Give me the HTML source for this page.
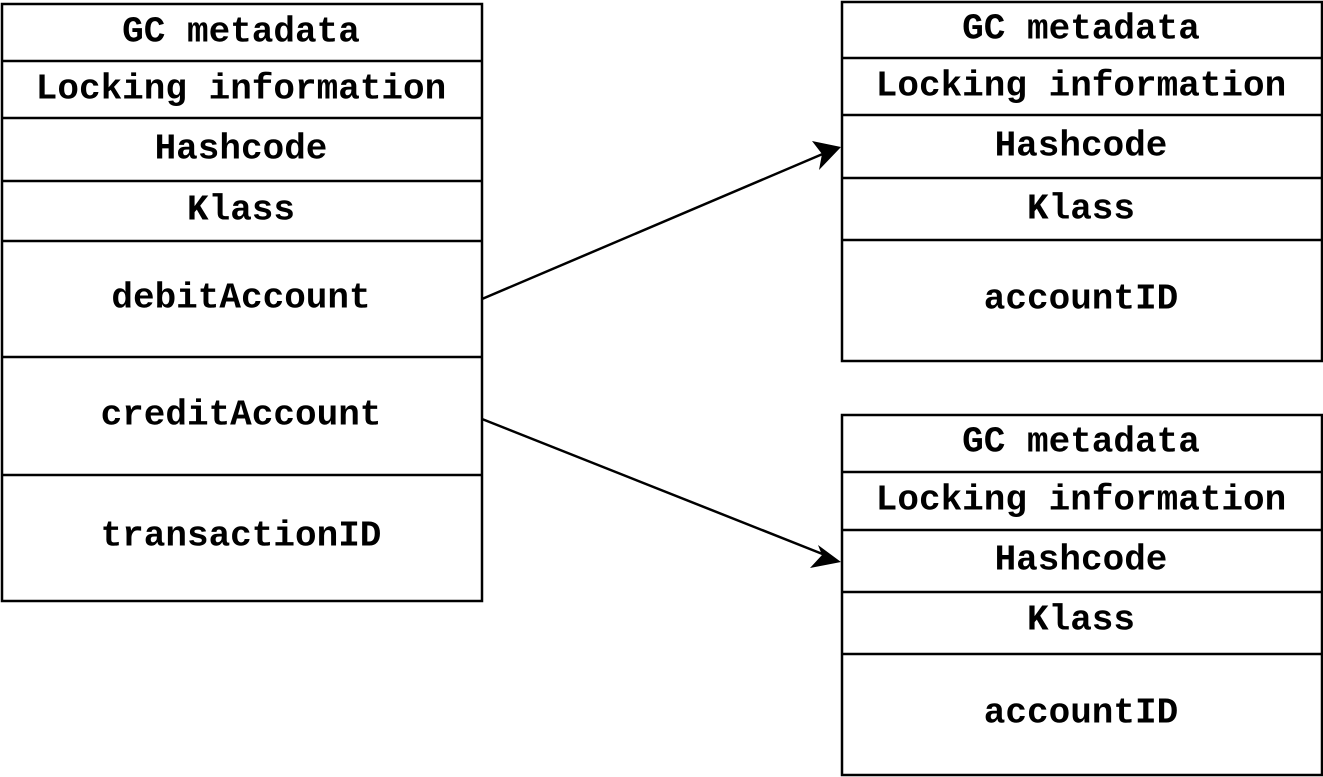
<!DOCTYPE html>
<html><head><style>body{margin:0;background:#fff}svg{display:block}</style></head><body>
<svg width="1323" height="777" xmlns="http://www.w3.org/2000/svg">
<g fill="none" stroke="#000" stroke-width="2.5">
<rect x="2" y="4" width="480" height="597"/>
<line x1="2" y1="61" x2="482" y2="61"/><line x1="2" y1="118" x2="482" y2="118"/>
<line x1="2" y1="181" x2="482" y2="181"/><line x1="2" y1="241" x2="482" y2="241"/>
<line x1="2" y1="357" x2="482" y2="357"/><line x1="2" y1="475" x2="482" y2="475"/>
<rect x="842" y="2" width="480" height="359"/>
<line x1="842" y1="58" x2="1322" y2="58"/><line x1="842" y1="115" x2="1322" y2="115"/>
<line x1="842" y1="178" x2="1322" y2="178"/><line x1="842" y1="240" x2="1322" y2="240"/>
<rect x="842" y="415" width="480" height="360"/>
<line x1="842" y1="472" x2="1322" y2="472"/><line x1="842" y1="530" x2="1322" y2="530"/>
<line x1="842" y1="592" x2="1322" y2="592"/><line x1="842" y1="654" x2="1322" y2="654"/>
<line x1="482" y1="299" x2="825" y2="153"/>
<line x1="482" y1="419" x2="825" y2="555"/>
</g>
<polygon points="841,147 812,141 822,154 819,170" fill="#000"/>
<polygon points="841,562 818,545 822,555 810,568" fill="#000"/>
<g font-family="'Liberation Mono',monospace" font-weight="bold" font-size="36" text-anchor="middle" dominant-baseline="central">
<text x="241" y="32">GC metadata</text><text x="241" y="89">Locking information</text>
<text x="241" y="149">Hashcode</text><text x="241" y="210">Klass</text>
<text x="241" y="298">debitAccount</text><text x="241" y="415">creditAccount</text>
<text x="241" y="536">transactionID</text>
<text x="1081" y="29">GC metadata</text><text x="1081" y="86">Locking information</text>
<text x="1081" y="146">Hashcode</text><text x="1081" y="209">Klass</text>
<text x="1081" y="299">accountID</text>
<text x="1081" y="442">GC metadata</text><text x="1081" y="500">Locking information</text>
<text x="1081" y="560">Hashcode</text><text x="1081" y="620">Klass</text>
<text x="1081" y="713">accountID</text>
</g>
</svg>
</body></html>
